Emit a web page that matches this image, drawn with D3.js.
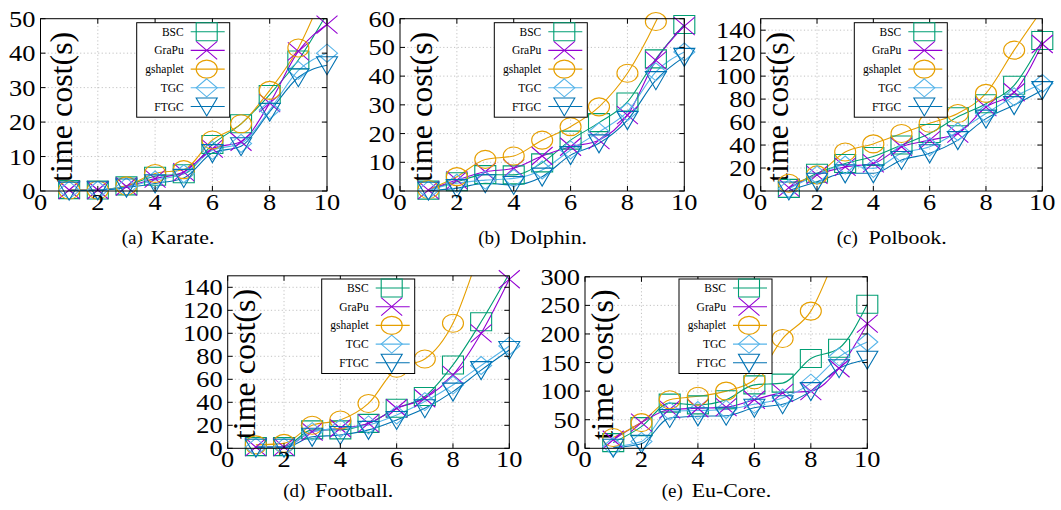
<!DOCTYPE html>
<html><head><meta charset="utf-8">
<script src="https://cdn.jsdelivr.net/npm/d3@7"></script>
<style>
body{margin:0;background:#fff}
svg{display:block}
text{font-family:"Liberation Serif","Times New Roman",serif;fill:#000}
</style>
</head><body>
<svg id="c" width="1061" height="510"></svg>
<script>
// ---------- data ----------
const xValues = [1, 2, 3, 4, 5, 6, 7, 8, 9, 10];
const xTicks = [0, 2, 4, 6, 8, 10];
const seriesNames = ["BSC", "GraPu", "gshaplet", "TGC", "FTGC"];

const karateBSC      = [0.4, 0.3, 1.5, 4.3, 5.0, 13.5, 19.5, 28.0, 38.0, 51.5];
const karateGraPu    = [0.3, 0.3, 1.3, 3.6, 5.5, 12.3, 14.3, 25.5, 40.5, 48.3];
const karateGshaplet = [0.3, 0.3, 1.5, 5.1, 6.2, 14.8, 19.5, 29.2, 41.5, 60.0];
const karateTGC      = [0.2, 0.3, 1.2, 3.2, 5.0, 11.8, 13.8, 23.5, 35.0, 40.0];
const karateFTGC     = [0.1, 0.2, 1.0, 2.2, 3.8, 11.0, 13.0, 23.0, 33.0, 36.5];

const dolphinBSC      = [0.3, 3.2, 5.7, 5.6, 9.8, 17.7, 23.8, 31.0, 46.0, 58.0];
const dolphinGraPu    = [0.3, 3.8, 6.7, 7.9, 12.2, 15.4, 17.7, 26.4, 45.5, 57.4];
const dolphinGshaplet = [0.5, 5.0, 11.0, 12.2, 17.7, 22.4, 29.3, 41.0, 59.0, 82.0];
const dolphinTGC      = [0.3, 2.7, 3.8, 4.4, 7.3, 14.3, 20.6, 27.6, 41.5, 48.4];
const dolphinFTGC     = [0.1, 1.0, 2.7, 2.1, 5.0, 12.5, 16.6, 24.7, 38.6, 46.7];

const polbookBSC      = [2.3, 15.4, 24.0, 30.0, 40.0, 50.0, 64.6, 76.0, 92.0, 131.0];
const polbookGraPu    = [3.0, 14.0, 21.0, 24.0, 38.5, 44.3, 50.0, 73.0, 86.0, 128.0];
const polbookGshaplet = [6.7, 14.0, 34.0, 41.0, 50.0, 59.0, 67.5, 85.0, 122.6, 158.0];
const polbookTGC      = [2.0, 14.0, 22.6, 19.7, 32.8, 38.5, 51.6, 67.5, 82.0, 93.6];
const polbookFTGC     = [0.5, 8.0, 15.4, 15.4, 27.0, 32.8, 44.3, 63.0, 74.8, 87.8];

const footballBSC      = [1.5, 1.5, 16.0, 16.0, 21.7, 34.8, 45.0, 72.5, 110.0, 152.0];
const footballGraPu    = [1.0, 1.0, 14.5, 17.4, 21.7, 34.8, 43.5, 63.8, 100.0, 147.0];
const footballGshaplet = [3.0, 4.3, 20.0, 24.6, 39.0, 69.6, 77.7, 108.7, 175.0, 250.0];
const footballTGC      = [1.0, 1.0, 14.5, 17.4, 20.3, 29.0, 40.6, 55.0, 72.0, 89.0];
const footballFTGC     = [0.5, 0.5, 10.0, 11.6, 16.0, 24.6, 34.8, 49.3, 68.0, 85.5];

const euCoreBSC      = [10, 38, 79, 76, 85, 111, 114, 157, 175, 252];
const euCoreGraPu    = [15, 45, 68, 70, 72, 85, 97, 100, 140, 218];
const euCoreGshaplet = [19, 45, 85, 91, 100, 120, 192, 240, 350, 460];
const euCoreTGC      = [3, 12, 65, 66, 68, 77, 88, 114, 160, 186];
const euCoreFTGC     = [1, 8, 53, 56, 57, 71, 77, 100, 140, 155];

const karateYTicks   = [0, 10, 20, 30, 40, 50];
const dolphinYTicks  = [0, 10, 20, 30, 40, 50, 60];
const polbookYTicks  = [0, 20, 40, 60, 80, 100, 120, 140];
const footballYTicks = [0, 20, 40, 60, 80, 100, 120, 140];
const euCoreYTicks   = [0, 50, 100, 150, 200, 250, 300];

const yMaxima = [50, 60, 150, 150, 300];
const panelTags = ["(a)", "(b)", "(c)", "(d)", "(e)"];
const panelNames = ["Karate.", "Dolphin.", "Polbook.", "Football.", "Eu-Core."];
const yLabelText = "time cost(s)";

// ---------- styles / layout ----------
const seriesColors = ["#009e73", "#9400d3", "#e69f00", "#56b4e9", "#0072b2"];
const seriesShapes = ["square", "cross", "circle", "diamond", "tri"];

const panelSeries = [
  [karateBSC, karateGraPu, karateGshaplet, karateTGC, karateFTGC],
  [dolphinBSC, dolphinGraPu, dolphinGshaplet, dolphinTGC, dolphinFTGC],
  [polbookBSC, polbookGraPu, polbookGshaplet, polbookTGC, polbookFTGC],
  [footballBSC, footballGraPu, footballGshaplet, footballTGC, footballFTGC],
  [euCoreBSC, euCoreGraPu, euCoreGshaplet, euCoreTGC, euCoreFTGC]
];
const panelYTicks = [karateYTicks, dolphinYTicks, polbookYTicks, footballYTicks, euCoreYTicks];

const layout = [
  {l: 40.5, r: 327,   t: 18.7,  b: 191,   ylx: 72,  lgx: 136.7, lgy: 22.7, cx: 121.7, cy: 244, co: 29},
  {l: 400,  r: 684.3, t: 18.7,  b: 191,   ylx: 432, lgx: 494.3, lgy: 22.7, cx: 478.3, cy: 244, co: 31.7},
  {l: 760.7,r: 1042.3,t: 18.7,  b: 191,   ylx: 788, lgx: 854.3, lgy: 22.7, cx: 836.7, cy: 244, co: 31.7},
  {l: 227.7,r: 509.3, t: 275.8, b: 448.3, ylx: 255, lgx: 321.7, lgy: 279,  cx: 283.3, cy: 497, co: 31.7},
  {l: 585,  r: 867.3, t: 276.8, b: 448.3, ylx: 613, lgx: 679,   lgy: 279,  cx: 661.7, cy: 497, co: 30}
];

const HX = 10.5, HY = 9;
const TICK_STRETCH = 1.1, CAPTION_STRETCH = 1.15;
function markerPath(shape, cx, cy) {
  const p = d3.path();
  if (shape === "square") {
    p.rect(cx - HX, cy - HY, 2 * HX, 2 * HY);
  } else if (shape === "cross") {
    p.moveTo(cx - HX, cy - HY); p.lineTo(cx + HX, cy + HY);
    p.moveTo(cx + HX, cy - HY); p.lineTo(cx - HX, cy + HY);
  } else if (shape === "circle") {
    return `M${cx - HX},${cy}A${HX},${HY} 0 1 0 ${cx + HX},${cy}A${HX},${HY} 0 1 0 ${cx - HX},${cy}Z`;
  } else if (shape === "diamond") {
    p.moveTo(cx, cy - HY); p.lineTo(cx + HX, cy); p.lineTo(cx, cy + HY); p.lineTo(cx - HX, cy); p.closePath();
  } else {
    p.moveTo(cx - HX, cy - 8.5); p.lineTo(cx + HX, cy - 8.5); p.lineTo(cx, cy + 9.5); p.closePath();
  }
  return p.toString();
}

const svg = d3.select("#c");
svg.append("rect").attr("width", 1061).attr("height", 510).attr("fill", "#fff");
const defs = svg.append("defs");

layout.forEach((L, pi) => {
  const g = svg.append("g");
  const x = d3.scaleLinear().domain([0, 10]).range([L.l, L.r]);
  const y = d3.scaleLinear().domain([0, yMaxima[pi]]).range([L.b, L.t]);
  const yTicks = panelYTicks[pi];

  defs.append("clipPath").attr("id", "clip" + pi)
    .append("rect").attr("x", L.l).attr("y", L.t).attr("width", L.r - L.l).attr("height", L.b - L.t);

  // grid
  const grid = g.append("g").attr("stroke", "#b4b4b4").attr("stroke-width", 0.8).attr("stroke-dasharray", "1.2,2.4");
  xTicks.filter(v => v > 0 && v < 10).forEach(v => {
    grid.append("line").attr("x1", x(v)).attr("x2", x(v)).attr("y1", L.t).attr("y2", L.b);
  });
  yTicks.filter(v => v > 0 && v < yMaxima[pi]).forEach(v => {
    grid.append("line").attr("x1", L.l).attr("x2", L.r).attr("y1", y(v)).attr("y2", y(v));
  });

  // y label
  g.append("text")
    .attr("transform", `translate(${L.ylx},${(L.t + L.b) / 2 + 2}) rotate(-90)`)
    .attr("text-anchor", "middle").attr("font-size", 32).text(yLabelText);

  // series
  const line = d3.line().x((d, i) => x(xValues[i])).y(d => y(d)).curve(d3.curveMonotoneX);
  const data = panelSeries[pi];
  data.forEach((vals, si) => {
    g.append("path").attr("d", line(vals)).attr("fill", "none")
      .attr("stroke", seriesColors[si]).attr("stroke-width", 1.1)
      .attr("clip-path", `url(#clip${pi})`);
  });
  data.forEach((vals, si) => {
    vals.forEach((v, i) => {
      if (v > yMaxima[pi]) return;
      g.append("path").attr("d", markerPath(seriesShapes[si], x(xValues[i]), y(v)))
        .attr("fill", "none").attr("stroke", seriesColors[si]).attr("stroke-width", 1.1);
    });
  });

  // frame and ticks
  g.append("rect").attr("x", L.l).attr("y", L.t).attr("width", L.r - L.l).attr("height", L.b - L.t)
    .attr("fill", "none").attr("stroke", "#000").attr("stroke-width", 1);
  const tk = g.append("g").attr("stroke", "#000").attr("stroke-width", 1);
  xTicks.forEach(v => {
    tk.append("line").attr("x1", x(v)).attr("x2", x(v)).attr("y1", L.b).attr("y2", L.b - 5);
    tk.append("line").attr("x1", x(v)).attr("x2", x(v)).attr("y1", L.t).attr("y2", L.t + 5);
  });
  yTicks.forEach(v => {
    tk.append("line").attr("x1", L.l).attr("x2", L.l + 5).attr("y1", y(v)).attr("y2", y(v));
    tk.append("line").attr("x1", L.r).attr("x2", L.r - 5).attr("y1", y(v)).attr("y2", y(v));
  });

  // tick labels
  xTicks.forEach(v => {
    g.append("text").attr("transform", `translate(${x(v)},${L.b + 18.5}) scale(${TICK_STRETCH},1)`)
      .attr("text-anchor", "middle").attr("font-size", 24).text(v);
  });
  yTicks.forEach(v => {
    g.append("text").attr("transform", `translate(${L.l - 5},${y(v) + 8}) scale(${TICK_STRETCH},1)`)
      .attr("text-anchor", "end").attr("font-size", 24).text(v);
  });

  // legend
  const lg = g.append("g");
  lg.append("rect").attr("x", L.lgx).attr("y", L.lgy).attr("width", 93).attr("height", 94.5)
    .attr("fill", "#fff").attr("stroke", "#000").attr("stroke-width", 1);
  seriesNames.forEach((name, si) => {
    const ry = L.lgy + 9 + si * 18.7;
    lg.append("text").attr("x", L.lgx + 47).attr("y", ry + 4).attr("text-anchor", "end")
      .attr("font-size", 11.5).text(name);
    lg.append("line").attr("x1", L.lgx + 54).attr("x2", L.lgx + 88).attr("y1", ry).attr("y2", ry)
      .attr("stroke", seriesColors[si]).attr("stroke-width", 1.1);
    lg.append("path").attr("d", markerPath(seriesShapes[si], L.lgx + 70, ry))
      .attr("fill", "none").attr("stroke", seriesColors[si]).attr("stroke-width", 1.1);
  });

  // caption
  g.append("text").attr("x", L.cx).attr("y", L.cy).attr("font-size", 19).text(panelTags[pi]);
  g.append("text").attr("transform", `translate(${L.cx + L.co},${L.cy}) scale(${CAPTION_STRETCH},1)`)
    .attr("font-size", 19).text(panelNames[pi]);
});
</script>
</body></html>
